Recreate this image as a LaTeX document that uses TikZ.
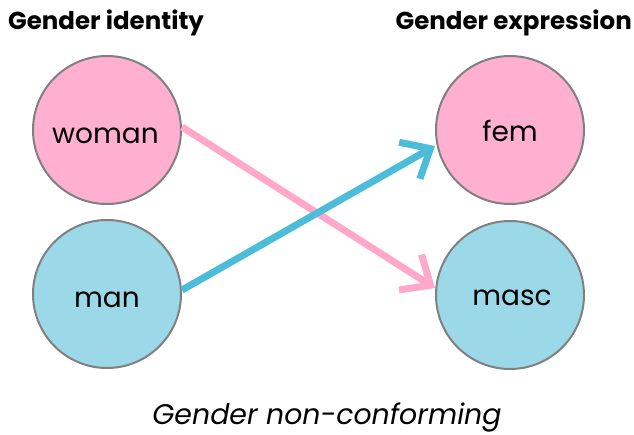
\documentclass[tikz,border=0pt]{standalone}
\usepackage{fontspec}
\setmainfont{Poppins}
\usetikzlibrary{arrows.meta}
\definecolor{pinkfill}{HTML}{FFB0D0}
\definecolor{bluefill}{HTML}{9BD9E8}
\definecolor{pinkarrow}{HTML}{FFA8CA}
\definecolor{bluearrow}{HTML}{4CBDD8}
\definecolor{rim}{HTML}{808080}
\tikzset{
  circ/.style={circle, draw=rim, line width=2pt, minimum size=148pt, inner sep=0pt},
  pinkc/.style={circ, fill=pinkfill},
  bluec/.style={circ, fill=bluefill},
  lbl/.style={font=\fontsize{28}{30}\selectfont, inner sep=0pt, anchor=base},
  arr/.style={line width=7pt, -{Straight Barb[length=24pt, width=42pt, line cap=butt]}},
  ttl/.style={font=\fontseries{sb}\fontsize{24.5}{28}\selectfont, inner sep=0pt}
}
\begin{document}
\begin{tikzpicture}[x=1pt, y=-1pt]
\useasboundingbox (0,0) rectangle (634,434);
\node[ttl, anchor=base west] (t1) at (8,29.5) {Gender identity};
\node[ttl, anchor=base east] (t2) at (632,29.5) {Gender expression};
\node[pinkc] (woman) at (107,130) {};
\node[bluec] (man) at (107,294) {};
\node[pinkc] (fem) at (510,130) {};
\node[bluec] (masc) at (510,295) {};
\node[lbl] (lw) at (105.5,143) {woman};
\node[lbl] (lm) at (107,307) {man};
\node[lbl] (lf) at (510,141) {fem};
\node[lbl] (ls) at (512,305) {masc};
\draw[arr, pinkarrow] (woman.east |- 0,127) -- (masc.west |- 0,288);
\draw[arr, bluearrow] (man.east |- 0,290) -- (fem.west |- 0,146);
\node[font=\itshape\fontsize{28.4}{30}\selectfont, inner sep=0pt, anchor=base] (cap) at (327,424.5) {Gender non-conforming};
\end{tikzpicture}
\end{document}
